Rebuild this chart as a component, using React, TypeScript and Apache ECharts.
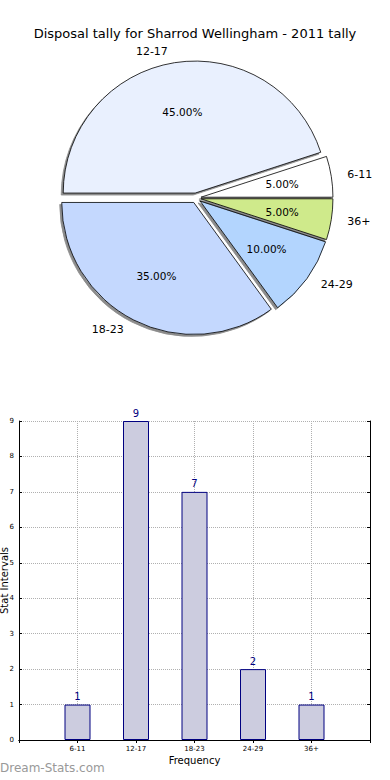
import React, { useEffect, useRef } from 'react';
import * as echarts from 'echarts';

const chartTitle = 'Disposal tally for Sharrod Wellingham - 2011 tally';
const categories = ['6-11', '12-17', '18-23', '24-29', '36+'];
const tallies = [1, 9, 7, 2, 1];
const pieColors = ['#ffffff', '#e9f0fe', '#c4d8fe', '#b3d5fe', '#cfea8b'];
const xAxisName = 'Frequency';
const yAxisName = 'Stat Intervals';
const yMin = 0;
const yMax = 9;
const watermark = 'Dream-Stats.com';

export default function App() {
  const ref = useRef<HTMLDivElement>(null);
  useEffect(() => {
    const chart = echarts.init(ref.current!, null, { renderer: 'svg' });
    const FONT = 'DejaVu Sans';
    const R = 132;
    const CENTER = [196, 198];
    const pieData = categories.map((name, i) => ({
      name,
      value: tallies[i],
      selected: true,
      itemStyle: { color: pieColors[i] },
    }));
    const pctData = categories.map((name, i) => ({ name, value: tallies[i], selected: true }));
    const padded = ['', ...categories, ''];
    const barData: (number | null)[] = [null, ...tallies, null];
    const gridLine = { show: true, lineStyle: { type: 'dotted', color: '#b0b0b0', width: 1 } };
    chart.setOption({
      animation: false,
      textStyle: { fontFamily: FONT },
      title: {
        text: chartTitle,
        left: 'center',
        top: 22,
        textStyle: { fontSize: 13, fontWeight: 'normal', color: '#000', fontFamily: FONT },
      },
      grid: { left: 19, right: 20, top: 421, bottom: 40, containLabel: false, outerBoundsMode: 'none' },
      xAxis: [
        {
          type: 'category',
          data: padded,
          boundaryGap: false,
          position: 'bottom',
          axisLine: { show: true, lineStyle: { color: '#000', width: 1 } },
          axisTick: { show: true, inside: true, length: 3, lineStyle: { color: '#000' } },
          axisLabel: { fontSize: 7, color: '#000', margin: 5, interval: 0, fontFamily: FONT },
          splitLine: gridLine,
          name: xAxisName,
          nameLocation: 'middle',
          nameGap: 15,
          nameMoveOverlap: false,
          nameTextStyle: { fontSize: 10, color: '#000', fontFamily: FONT },
        },
        {
          type: 'category',
          data: padded,
          boundaryGap: false,
          position: 'top',
          axisLine: { show: true, lineStyle: { color: '#000', width: 1 } },
          axisTick: { show: true, inside: true, length: 3, lineStyle: { color: '#000' } },
          axisLabel: { show: false },
          splitLine: { show: false },
        },
      ],
      yAxis: [
        {
          type: 'value',
          min: yMin,
          max: yMax,
          interval: 1,
          position: 'left',
          axisLine: { show: true, lineStyle: { color: '#000', width: 1 } },
          axisTick: { show: true, inside: true, length: 3, lineStyle: { color: '#000' } },
          axisLabel: { fontSize: 7, color: '#000', margin: 5, fontFamily: FONT },
          splitLine: gridLine,
          name: yAxisName,
          nameLocation: 'middle',
          nameRotate: 90,
          nameGap: 10,
          nameMoveOverlap: false,
          nameTextStyle: { fontSize: 10, color: '#000', fontFamily: FONT },
        },
        {
          type: 'value',
          min: yMin,
          max: yMax,
          interval: 1,
          position: 'right',
          axisLine: { show: true, lineStyle: { color: '#000', width: 1 } },
          axisTick: { show: true, inside: true, length: 3, lineStyle: { color: '#000' } },
          axisLabel: { show: false },
          splitLine: { show: false },
        },
      ],
      series: [
        {
          type: 'pie',
          center: CENTER,
          radius: R,
          startAngle: 0,
          clockwise: false,
          selectedMode: 'multiple',
          selectedOffset: 5,
          avoidLabelOverlap: false,
          data: pieData,
          itemStyle: {
            borderColor: '#000',
            borderWidth: 0.8,
            shadowColor: 'rgba(0,0,0,0.45)',
            shadowOffsetX: -2,
            shadowOffsetY: 2,
            shadowBlur: 0,
          },
          label: { show: true, position: 'outside', formatter: '{b}', fontSize: 11, color: '#000', fontFamily: FONT },
          labelLine: { show: false, length: 11, length2: 0 },
          emphasis: { disabled: true },
          silent: true,
        },
        {
          type: 'pie',
          center: CENTER,
          radius: [R * 0.2, R],
          startAngle: 0,
          clockwise: false,
          selectedMode: 'multiple',
          selectedOffset: 5,
          avoidLabelOverlap: false,
          data: pctData,
          itemStyle: { color: 'rgba(0,0,0,0)', borderWidth: 0 },
          label: {
            show: true,
            position: 'inside',
            formatter: (p: any) => p.percent.toFixed(2) + '%',
            fontSize: 10.5,
            color: '#000',
            fontFamily: FONT,
          },
          labelLine: { show: false },
          emphasis: { disabled: true },
          silent: true,
        },
        {
          type: 'bar',
          xAxisIndex: 0,
          yAxisIndex: 0,
          data: barData,
          barWidth: 26,
          itemStyle: { color: '#ccccdf', borderColor: '#000080', borderWidth: 1 },
          label: { show: true, position: 'top', color: '#000080', fontSize: 10, distance: 3, fontFamily: FONT },
          emphasis: { disabled: true },
        },
      ],
      graphic: [
        {
          type: 'text',
          left: 0,
          top: 762,
          style: { text: watermark, fill: '#999999', font: '12px "DejaVu Sans"' },
        },
      ],
    });
    return () => chart.dispose();
  }, []);
  return <div ref={ref} style={{ position: 'fixed', left: 0, top: 0, width: 390, height: 780, background: '#fff' }} />;
}
